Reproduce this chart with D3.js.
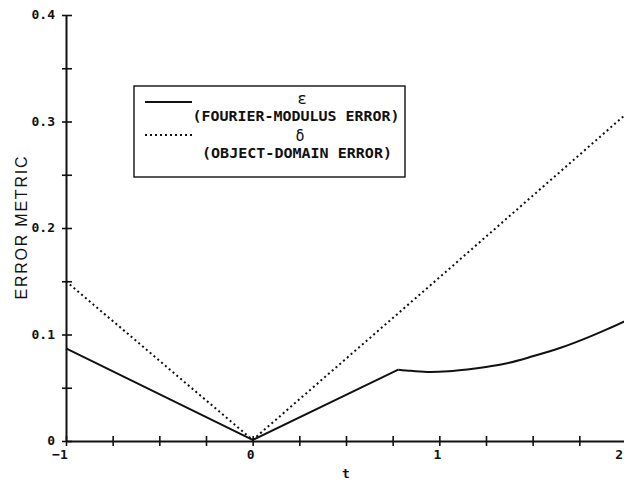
<!DOCTYPE html>
<html>
<head>
<meta charset="utf-8">
<script src="https://cdn.jsdelivr.net/npm/d3@7"></script>
<style>
  html, body { margin: 0; padding: 0; background: #fff; }
  svg { display: block; }
</style>
</head>
<body>
<svg id="chart" width="624" height="484"></svg>
<script>
// Error metrics versus the parameter t
const xTicks = [-1, 0, 1, 2];
const xMinorTicks = [-0.75, -0.5, -0.25, 0.25, 0.5, 0.75, 1.25, 1.5, 1.75];
const yTicks = [0, 0.1, 0.2, 0.3, 0.4];
const yMinorTicks = [0.05, 0.15, 0.25, 0.35];
const yTickLabels = ["0", "0.1", "0.2", "0.3", "0.4"];

// epsilon: Fourier-modulus error (linear up to the kink, smooth afterwards)
const epsLinearT = [-1, 0, 0.78];
const epsLinearV = [0.087, 0.001, 0.067];
const epsCurveT = [0.78, 0.85, 0.95, 1.05, 1.15, 1.25, 1.35, 1.5, 1.65, 1.8, 1.9, 2.0];
const epsCurveV = [0.067, 0.0659, 0.0648, 0.0655, 0.0672, 0.0695, 0.0725, 0.0795, 0.0875, 0.0975, 0.105, 0.113];

// delta: object-domain error
const deltaT = [-1, 0, 1, 2];
const deltaV = [0.150, 0.001, 0.1535, 0.307];

const svg = d3.select("#chart");
const x = d3.scaleLinear().domain([-1, 2]).range([66, 626]);
const y = d3.scaleLinear().domain([0, 0.4]).range([441, 15]);

const tickFont = "'DejaVu Sans Mono', monospace";

// axes
const xAxisG = svg.append("g").attr("transform", `translate(0,${y(0)})`);
xAxisG.call(d3.axisBottom(x).tickValues(xTicks.concat(xMinorTicks)).tickSize(0).tickFormat(""));
xAxisG.select(".domain").attr("stroke", "#111").attr("stroke-width", 2);
xAxisG.selectAll(".tick line").remove();
xAxisG.selectAll(".tick").append("line")
  .attr("y1", -5).attr("y2", 5).attr("stroke", "#111").attr("stroke-width", 1.6);

const yAxisG = svg.append("g").attr("transform", `translate(${x(-1)},0)`);
yAxisG.call(d3.axisLeft(y).tickValues(yTicks.concat(yMinorTicks)).tickSize(0).tickFormat(""));
yAxisG.select(".domain").attr("stroke", "#111").attr("stroke-width", 2);
yAxisG.selectAll(".tick line").remove();
yAxisG.selectAll(".tick").append("line")
  .attr("x1", -4).attr("x2", 6).attr("stroke", "#111").attr("stroke-width", 1.6);

// tick labels
svg.append("g").selectAll("text").data(yTicks).join("text")
  .attr("x", 55).attr("y", d => y(d) + 4)
  .attr("text-anchor", "end")
  .style("font-family", tickFont).style("font-size", "13px").style("font-weight", "bold")
  .attr("fill", "#111")
  .text((d, i) => yTickLabels[i]);

svg.append("g").selectAll("text").data(xTicks).join("text")
  .attr("x", d => d === 2 ? 623 : x(d) - (d < 0 ? 6 : 2)).attr("y", 459)
  .attr("text-anchor", d => d === 2 ? "end" : "middle")
  .style("font-family", tickFont).style("font-size", "13px").style("font-weight", "bold")
  .attr("fill", "#111")
  .text(d => d3.format("d")(d));

// axis titles
svg.append("text")
  .attr("transform", "translate(27,228) rotate(-90)")
  .attr("text-anchor", "middle")
  .style("font-family", "'Liberation Sans', Arial, sans-serif").style("font-size", "16px")
  .attr("textLength", 143).attr("lengthAdjust", "spacing")
  .attr("fill", "#111")
  .text("ERROR METRIC");

svg.append("text")
  .attr("x", x(0.5)).attr("y", 478)
  .attr("text-anchor", "middle")
  .style("font-family", tickFont).style("font-size", "13px").style("font-weight", "bold")
  .attr("fill", "#111")
  .text("t");

// curves
const line = d3.line().x(d => x(d[0])).y(d => y(d[1]));
const smooth = d3.line().x(d => x(d[0])).y(d => y(d[1])).curve(d3.curveMonotoneX);

svg.append("path")
  .datum(deltaT.map((t, i) => [t, deltaV[i]]))
  .attr("d", line)
  .attr("fill", "none").attr("stroke", "#111").attr("stroke-width", 2)
  .attr("stroke-dasharray", "2,3");

svg.append("path")
  .datum(epsLinearT.map((t, i) => [t, epsLinearV[i]]))
  .attr("d", line)
  .attr("fill", "none").attr("stroke", "#111").attr("stroke-width", 2)
  .attr("stroke-linejoin", "round");

svg.append("path")
  .datum(epsCurveT.map((t, i) => [t, epsCurveV[i]]))
  .attr("d", smooth)
  .attr("fill", "none").attr("stroke", "#111").attr("stroke-width", 2);

// legend
const lg = svg.append("g");
lg.append("rect")
  .attr("x", 134).attr("y", 86).attr("width", 271).attr("height", 91)
  .attr("fill", "#fff").attr("stroke", "#111").attr("stroke-width", 1.4);

const legendFont = "'DejaVu Sans Mono', monospace";
lg.append("line").attr("x1", 145).attr("x2", 192).attr("y1", 102).attr("y2", 102)
  .attr("stroke", "#111").attr("stroke-width", 2);
lg.append("line").attr("x1", 145).attr("x2", 192).attr("y1", 135).attr("y2", 135)
  .attr("stroke", "#111").attr("stroke-width", 2).attr("stroke-dasharray", "2,3");

lg.append("text").attr("x", 302).attr("y", 104).attr("text-anchor", "middle")
  .style("font-family", legendFont).style("font-size", "16px").attr("fill", "#111").text("ε");
lg.append("text").attr("x", 296).attr("y", 121).attr("text-anchor", "middle")
  .style("font-family", legendFont).style("font-size", "14px").style("font-weight", "bold")
  .attr("textLength", 207).attr("lengthAdjust", "spacingAndGlyphs")
  .attr("fill", "#111").text("(FOURIER-MODULUS ERROR)");
lg.append("text").attr("x", 300).attr("y", 141).attr("text-anchor", "middle")
  .style("font-family", legendFont).style("font-size", "15px").attr("fill", "#111").text("δ");
lg.append("text").attr("x", 297).attr("y", 158).attr("text-anchor", "middle")
  .style("font-family", legendFont).style("font-size", "14px").style("font-weight", "bold")
  .attr("textLength", 190).attr("lengthAdjust", "spacingAndGlyphs")
  .attr("fill", "#111").text("(OBJECT-DOMAIN ERROR)");
</script>
</body>
</html>
